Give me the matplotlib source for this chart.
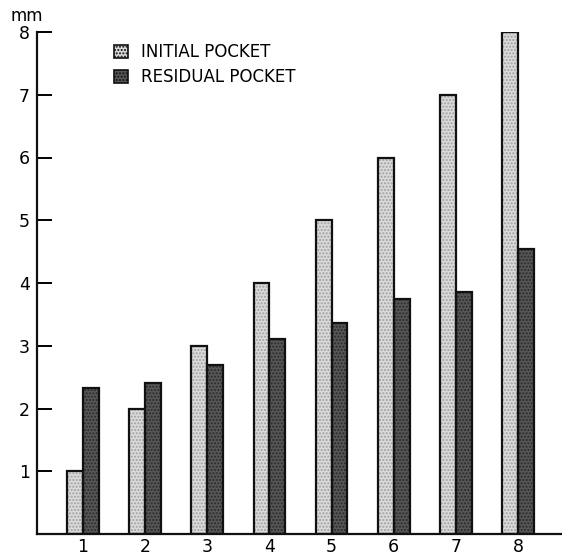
import matplotlib
matplotlib.use("Agg")
import matplotlib.pyplot as plt
import numpy as np
from matplotlib.patches import Patch

plt.rcParams['font.family'] = ['DejaVu Sans']

categories = [1, 2, 3, 4, 5, 6, 7, 8]
initial_pocket = [1, 2, 3, 4, 5, 6, 7, 8]
residual_pocket = [2.32, 2.4, 2.7, 3.1, 3.36, 3.74, 3.85, 4.54]
yticks = [1, 2, 3, 4, 5, 6, 7, 8]

fig = plt.figure(figsize=(5.62, 5.58), dpi=100)
ax = fig.add_axes([37/562, 24/558, 1 - 37/562, (534-32)/558])

x = np.array(categories, dtype=float)
w = 0.255
light = '#dadada'
dark = '#575757'

# stippled fills, then crisp outlines on top
ax.bar(x - w/2, initial_pocket, w, color=light, hatch='.....', edgecolor='#a0a0a0', linewidth=0)
ax.bar(x + w/2, residual_pocket, w, color=dark, hatch='.....', edgecolor='#2a2a2a', linewidth=0)
ax.bar(x - w/2, initial_pocket, w, fill=False, edgecolor='#111111', linewidth=1.6)
ax.bar(x + w/2, residual_pocket, w, fill=False, edgecolor='#111111', linewidth=1.6)

ax.set_xlim(1 - 46/62, 8 + 44/62)
ax.set_ylim(0, 8)
ax.set_xticks(categories)
ax.set_xticklabels([str(c) for c in categories])
ax.set_yticks(yticks)
ax.tick_params(axis='y', direction='in', length=11, width=1.4, labelsize=12.5, pad=5)
ax.tick_params(axis='x', length=0, labelsize=12.5, pad=3)
for s in ['top', 'right']:
    ax.spines[s].set_visible(False)
for s in ['left', 'bottom']:
    ax.spines[s].set_linewidth(1.6)
    ax.spines[s].set_color('#111111')

fig.text(10/562, 1 - 16/558, 'mm', fontsize=12, va='center', ha='left')

handles = [
    Patch(facecolor=light, edgecolor='#111111', hatch='.....', linewidth=1.2, label='INITIAL POCKET'),
    Patch(facecolor=dark, edgecolor='#111111', hatch='.....', linewidth=1.2, label='RESIDUAL POCKET'),
]
ax.legend(handles=handles, loc='upper left', bbox_to_anchor=(0.118, 1.008), frameon=False,
          fontsize=12, handlelength=0.85, handleheight=0.85, handletextpad=0.8, labelspacing=0.42)

fig.savefig('out.png', dpi=100)
